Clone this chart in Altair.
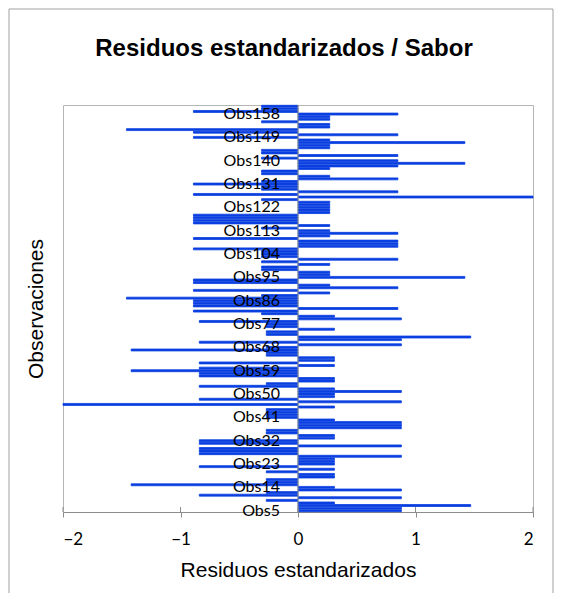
import altair as alt
import pandas as pd

# Categories (bottom to top) and standardized residuals
obs = [f"Obs{n}" for n in range(5, 162)]
residuals = [
    0.88, 0.88, 1.47, 0.31, -0.27, 0.88, -0.84, -0.27, 0.88, 0.31,
    -1.42, -0.27, -0.27, 0.31, 0.31, -0.27, 0.31, -0.84, 0.31, 0.31,
    0.31, 0.88, -0.84, -0.84, -0.84, 0.88, -0.84, -0.84, 0.31, 0.31,
    -0.27, -0.27, 0.88, 0.88, 0.88, 0.31, -0.27, -0.27, -0.27, -0.27,
    0.31, -2.0, 0.88, -0.84, 0.31, 0.31, 0.88, 0.31, -0.84, -0.27,
    0.31, 0.31, -0.84, -0.84, -1.42, -0.84, 0.31, -0.84, 0.31, 0.31,
    -0.27, -0.27, -1.42, -0.27, 0.88, -0.84, 0.88, 1.47, -0.27, -0.27,
    0.31, -0.27, -0.27, -0.84, 0.88, 0.31, -0.31, -0.89, 0.85, -0.89,
    -0.89, -0.89, -1.46, -0.31, 0.27, -0.89, 0.85, 0.27, -0.89, -0.89,
    1.42, 0.27, 0.27, -0.31, -0.31, 0.27, -0.31, 0.85, -0.31, -0.31,
    -0.31, -0.89, 0.85, 0.85, 0.85, -0.89, 0.27, 0.85, 0.27, -0.31,
    0.27, -0.89, -0.89, -0.89, -0.89, 0.27, 0.27, 0.27, 0.27, 0.27,
    -0.31, 2.0, -0.89, 0.85, -0.31, -0.31, -0.89, -0.31, 0.85, 0.27,
    -0.31, -0.31, 0.27, 0.85, 1.42, 0.85, -0.31, 0.85, -0.31, -0.31,
    0.27, 0.27, 1.42, 0.27, -0.89, 0.85, -0.89, -1.46, 0.27, 0.27,
    -0.31, 0.27, 0.27, 0.85, -0.89, -0.31, -0.31,
]
shown_labels = obs[::9]
x_ticks = [-2, -1, 0, 1, 2]

df = pd.DataFrame({"obs": obs, "res": residuals})
lab_df = pd.DataFrame({"obs": shown_labels, "zero": [0] * len(shown_labels)})
tick_df = pd.DataFrame({"t": x_ticks})
one_df = pd.DataFrame({"z": [0]})

W, H = 470, 407
order = obs[::-1]
GRAY = "#8c8c8c"
BLUE = "#0a3fe0"

yscale = alt.Scale(domain=order, paddingInner=0.25, paddingOuter=0.12)
xscale = alt.Scale(domain=[-2, 2], nice=False)

y_axis = alt.Axis(labels=False, ticks=False, domain=False,
                  title="Observaciones", titleFont="Liberation Sans",
                  titleFontSize=21, titleFontWeight="normal",
                  titleColor="black", titlePadding=17)
x_axis = alt.Axis(values=x_ticks, format="d", title="Residuos estandarizados", grid=False,
                  tickSize=5, tickColor=GRAY, domainColor=GRAY,
                  labelPadding=14, labelFont="Lato", labelFontSize=17,
                  labelColor="black", titleFont="Liberation Sans",
                  titleFontSize=21, titleFontWeight="normal",
                  titleColor="black", titlePadding=12)

bars = alt.Chart(df).mark_bar(color=BLUE, stroke=BLUE, strokeWidth=0.8).encode(
    x=alt.X("res:Q", scale=xscale, axis=x_axis),
    y=alt.Y("obs:N", sort=order, scale=yscale, axis=y_axis),
)

zero_line = alt.Chart(one_df).mark_rule(color=GRAY, strokeWidth=1).encode(
    x=alt.X("z:Q", scale=xscale, axis=x_axis)
)

cross_ticks = alt.Chart(tick_df).mark_rule(color=GRAY).encode(
    x=alt.X("t:Q", scale=xscale, axis=x_axis), y=alt.value(H - 5), y2=alt.value(H)
)

labels = alt.Chart(lab_df).mark_text(
    align="right", baseline="middle", dx=-18, font="Lato", fontSize=16, color="black"
).encode(
    x=alt.X("zero:Q", scale=xscale, axis=x_axis),
    y=alt.Y("obs:N", sort=order, scale=yscale, axis=y_axis),
    text="obs:N",
)

frame = alt.Chart(one_df).mark_rect(fillOpacity=0, stroke="#a0a0a0", strokeWidth=1).encode(
    x=alt.value(-54), x2=alt.value(490), y=alt.value(-96), y2=alt.value(520)
)

chart = alt.layer(frame, bars, zero_line, cross_ticks, labels).properties(
    width=W, height=H,
    title=alt.TitleParams("Residuos estandarizados / Sabor", font="Liberation Sans",
                          fontSize=24, fontWeight="bold", anchor="middle",
                          frame="group", baseline="alphabetic",
                          offset=-71, dx=-14, color="black"),
    autosize=alt.AutoSizeParams(type="none"),
    padding={"left": 55, "top": 97, "right": 21, "bottom": 81},
).configure_view(stroke="#b5b5b5", strokeWidth=1)

chart.save("out.html", embed_options={"renderer": "svg", "actions": False})
